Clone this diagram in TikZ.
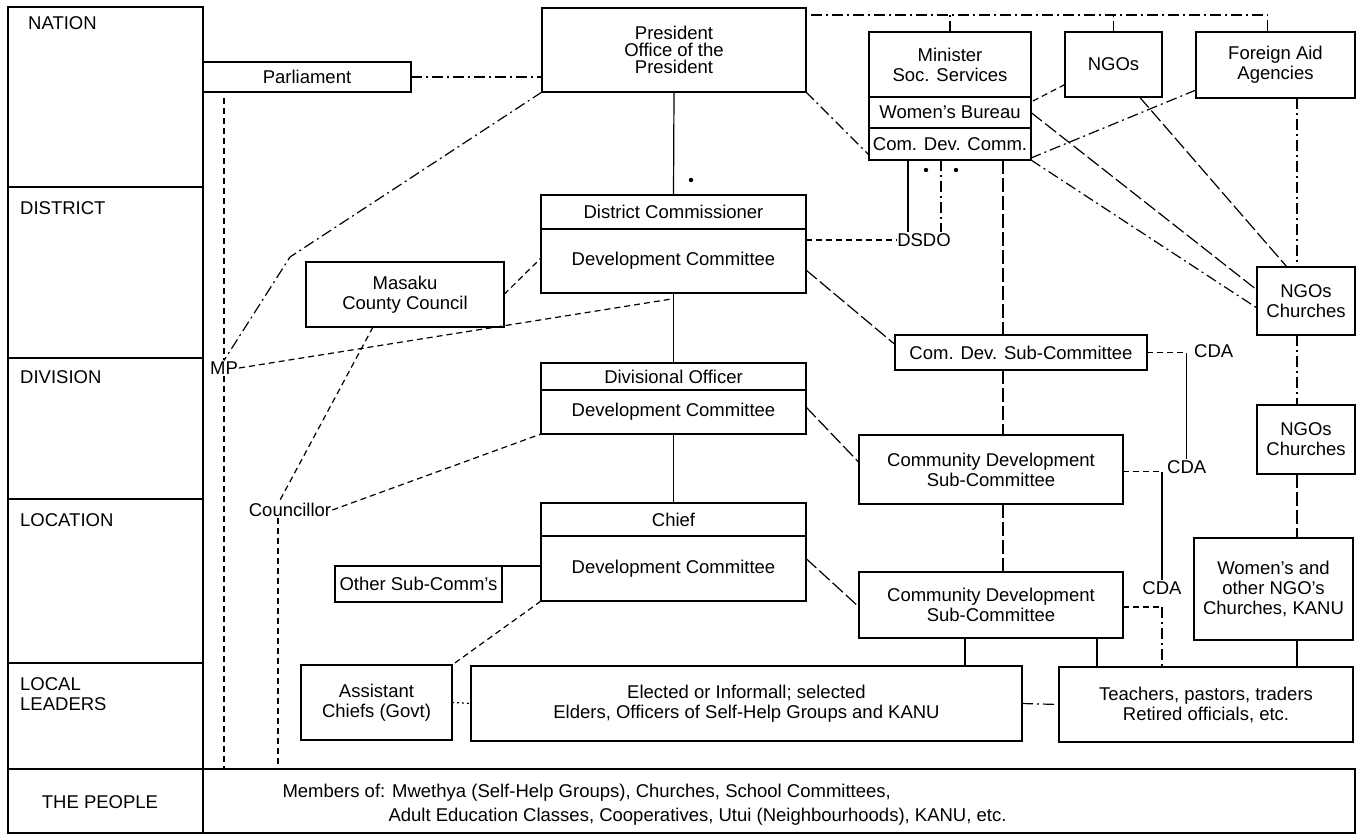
\documentclass[tikz,border=0pt]{standalone}
\usepackage{fontspec}
\setmainfont{Liberation Sans}
\usetikzlibrary{positioning}

\begin{document}
\begin{tikzpicture}[
  x=1pt, y=-1pt,
  every node/.style={font=\fontsize{18.5}{20}\selectfont},
  box/.style={draw, line width=1.6pt, rectangle, inner sep=1pt, outer sep=0pt, align=center},
  lvl/.style={anchor=west, align=left, inner sep=0pt},
  tag/.style={inner sep=1pt},
  link/.style={line width=1.2pt},
  shortdash/.style={link, dash pattern=on 6pt off 4pt},
  longdash/.style={link, dash pattern=on 14pt off 4pt},
  dotdash/.style={link, dash pattern=on 11pt off 4pt on 2pt off 4pt},
  tinydot/.style={link, dash pattern=on 2pt off 3pt}
]
\useasboundingbox (0,0) rectangle (1358,835);

\draw[line width=1.6pt] (8,7) rectangle (203,769);
\foreach \y in {187,358,499,663} \draw[line width=1.6pt] (8,\y) -- (203,\y);
\node[box, minimum width=1347pt, minimum height=64pt] (ppl) at (681.5,801) {};
\draw[line width=1.6pt] (203,769) -- (203,833);

\node[lvl] (nat) at (28,23) {NATION};
\node[lvl] (dis) at (20,208) {DISTRICT};
\node[lvl] (dvn) at (20,377) {DIVISION};
\node[lvl] (loc) at (20,520) {LOCATION};
\node[lvl] (ldr) at (20,694) {LOCAL\\LEADERS};
\node (peo) at (100,802) {THE PEOPLE};
\node[anchor=west, align=left, font=\fontsize{18.5}{24}\selectfont] (pplt) at (279,805)
  {Members of: Mwethya (Self-Help Groups), Churches, School Committees,\\\hspace*{106pt}Adult Education Classes, Cooperatives, Utui (Neighbourhoods), KANU, etc.};

\node[box, minimum width=208pt, minimum height=30pt] (parl) at (307,77) {Parliament};
\node[box, minimum width=264pt, minimum height=84pt, font=\fontsize{18.5}{17}\selectfont] (pres) at (674,50) {President\\Office of the\\President};
\node[box, minimum width=162pt, minimum height=65pt] (min) at (950,64.5) {Minister\\Soc. Services};
\node[box, minimum width=162pt, minimum height=31pt, below=0pt of min] (wb) {Women's Bureau};
\node[box, minimum width=162pt, minimum height=32pt, below=0pt of wb] (cdc) {Com. Dev. Comm.};
\node[box, minimum width=97pt, minimum height=65pt] (ngo) at (1113.5,64.5) {NGOs};
\node[box, minimum width=159pt, minimum height=66pt] (aid) at (1275.5,65) {Foreign Aid\\Agencies};

\node[box, minimum width=265pt, minimum height=34pt] (dc) at (673.5,212) {District Commissioner};
\node[box, minimum width=265pt, minimum height=64pt, below=0pt of dc] (dcdev) {Development Committee};
\node[box, minimum width=198pt, minimum height=65pt] (cc) at (405,294.5) {Masaku\\County Council};
\node[box, minimum width=265pt, minimum height=27pt] (div) at (673.5,376.5) {Divisional Officer};
\node[box, minimum width=265pt, minimum height=44pt, below=0pt of div] (divdev) {Development Committee};
\node[box, minimum width=265pt, minimum height=33pt] (chief) at (673.5,519.5) {Chief};
\node[box, minimum width=265pt, minimum height=65pt, below=0pt of chief] (chdev) {Development Committee};
\node[box, minimum width=167pt, minimum height=36pt] (oth) at (418.5,584) {Other Sub-Comm's};
\node[box, minimum width=151pt, minimum height=75pt] (asst) at (376.5,702.5) {Assistant\\Chiefs (Govt)};
\node[box, minimum width=551pt, minimum height=75pt] (eld) at (746.5,703.5) {Elected or Informall; selected\\Elders, Officers of Self-Help Groups and KANU};
\node[box, minimum width=294pt, minimum height=75pt] (tch) at (1206,704.5) {Teachers, pastors, traders\\Retired officials, etc.};

\node[box, minimum width=252pt, minimum height=35pt] (cds1) at (1021,352.5) {Com. Dev. Sub-Committee};
\node[box, minimum width=264pt, minimum height=69pt] (cds2) at (991,469.5) {Community Development\\Sub-Committee};
\node[box, minimum width=264pt, minimum height=66pt] (cds3) at (991,605) {Community Development\\Sub-Committee};
\node[box, minimum width=98pt, minimum height=68pt] (nc1) at (1306,301) {NGOs\\Churches};
\node[box, minimum width=98pt, minimum height=69pt] (nc2) at (1306,439.5) {NGOs\\Churches};
\node[box, minimum width=159pt, minimum height=102pt] (wom) at (1273.5,589) {Women's and\\other NGO's\\Churches, KANU};

\node[tag] (mp) at (224,368) {MP};
\node[tag] (coun) at (290,510) {Councillor};
\node[tag] (dsdo) at (924,240) {DSDO};
\node[tag, anchor=west] (cda1) at (1193,351) {CDA};
\node[tag, anchor=west] (cda2) at (1166,467) {CDA};
\node[tag] (cda3) at (1162,588) {CDA};

\coordinate (topline) at (0,15);
\coordinate (bend) at (290,257);
\coordinate (spine) at (1003,0);
\coordinate (rspine) at (1297,0);

\draw[dotdash] (parl.east) -- (parl.east -| pres.west);
\draw[dotdash] (pres.south west) -- (bend) -- (mp.north);
\draw[link] (pres.south) -- (dc.north);
\draw[dotdash, shorten <=5pt] (pres.east |- topline) -| ([xshift=-8pt]aid.north);
\draw[dotdash] (min.north) -- (min.north |- topline);
\draw[dotdash] (ngo.north) -- (ngo.north |- topline);
\draw[dotdash] (pres.south east) -- ([yshift=5pt]cdc.south west);

\draw[link] ([xshift=-42pt]cdc.south) -- ([xshift=-42pt]cdc.south |- dsdo.north);
\draw[dotdash] ([xshift=-9pt]cdc.south) -- ([xshift=-9pt]cdc.south |- dsdo.north);
\fill (926,170) circle (2.2pt) (956,170) circle (2.2pt) (691,180) circle (2.2pt);
\draw[longdash] (spine |- cdc.south) -- (spine |- cds1.north);
\draw[shortdash] (dsdo.west -| dcdev.east) -- (dsdo.west);

\draw[longdash] ([yshift=-9pt]dcdev.east) -- ([yshift=8pt]cds1.west);
\draw[shortdash] (cc.east) -- ([yshift=3pt]dcdev.west);
\draw[shortdash] (mp.east) -- ([xshift=-2pt,yshift=-6pt]dcdev.south);
\draw[shortdash] ([xshift=-32pt]cc.south) -- ([xshift=-11pt]coun.north);
\draw[shortdash] (coun.east) -- (divdev.south west);
\draw[shortdash, shorten <=6pt] (mp.north |- parl.south) -- (mp.north);
\draw[shortdash] (mp.south) -- (mp.south |- ppl.north);
\draw[shortdash] ([xshift=-12pt]coun.south) -- ([xshift=-12pt]coun.south |- ppl.north);

\draw[link] (dcdev.south) -- (div.north);
\draw[link] (divdev.south) -- (chief.north);
\draw[link] (oth.north east) -- (oth.north east -| chdev.west);
\draw[shortdash] (chdev.south west) -- (asst.north east);
\draw[tinydot] (asst.east) -- (eld.west);
\draw[dotdash] (eld.east) -- (tch.west);

\draw[longdash] ([yshift=5pt]divdev.east) -- ([yshift=7pt]cds2.west);
\draw[longdash] ([yshift=10pt]chdev.east) -- ([yshift=-2pt]cds3.west);
\draw[longdash] (spine |- cds1.south) -- (spine |- cds2.north);
\draw[longdash] (spine |- cds2.south) -- (spine |- cds3.north);
\draw[link] ([xshift=-26pt]cds3.south) -- ([xshift=-26pt]cds3.south |- eld.north);
\draw[link] ([xshift=106pt]cds3.south) -- ([xshift=106pt]cds3.south |- tch.north);

\draw[shortdash] (cds1.east) -- (cds1.east -| cda2.north);
\draw[link] (cds1.east -| cda2.north) -- (cda2.north);
\draw[shortdash] ([yshift=-2pt]cds2.east) -- ([yshift=-2pt]cds2.east -| cda3.north);
\draw[link] ([yshift=-2pt]cds2.east -| cda3.north) -- (cda3.north);
\draw[shortdash] ([yshift=-2pt]cds3.east) -- ([yshift=-2pt]cds3.east -| cda3.south);
\draw[dotdash] ([yshift=-2pt]cds3.east -| cda3.south) -- (cda3.south |- tch.north);

\draw[dotdash] (rspine |- aid.south) -- (rspine |- nc1.north);
\draw[dotdash] (rspine |- nc1.south) -- (rspine |- nc2.north);
\draw[longdash] (rspine |- nc2.south) -- (rspine |- wom.north);
\draw[link] (rspine |- wom.south) -- (rspine |- tch.north);

\draw[shortdash] ([yshift=-20pt]ngo.west) -- ([yshift=-5pt]wb.north east);
\draw[longdash] ([xshift=26pt]ngo.south) -- ([xshift=-19pt]nc1.north);
\draw[longdash] (wb.east) -- ([yshift=11pt]nc1.west);
\draw[dotdash] (cdc.south east) -- ([yshift=-7pt]nc1.west);
\draw[dotdash] ([yshift=8pt]aid.south west) -- ([yshift=2pt]cdc.south east);
\end{tikzpicture}
\end{document}
